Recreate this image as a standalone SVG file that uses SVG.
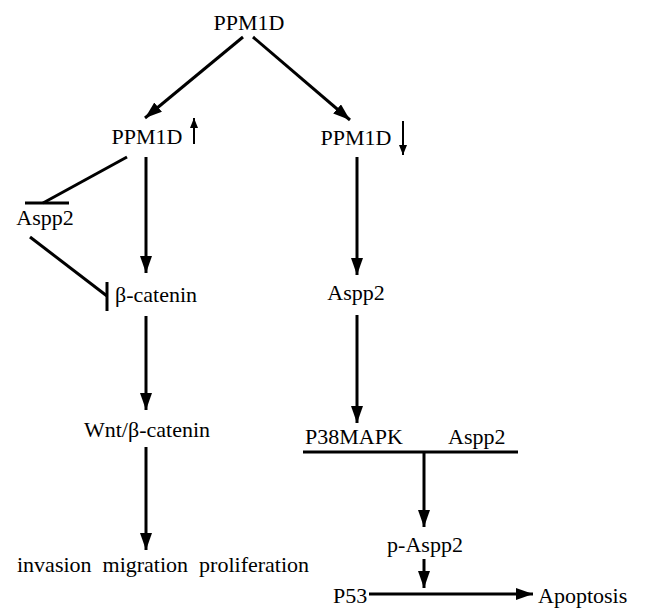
<svg xmlns="http://www.w3.org/2000/svg" width="646" height="608" viewBox="0 0 646 608">
<style>
text{font-family:'Liberation Serif','DejaVu Serif',serif;font-size:22px;fill:#000}
.c line,.c path{stroke:#000;stroke-width:3;fill:none}
.a{marker-end:url(#ah)}
.s{marker-end:url(#sm)}
</style>
<defs>
<marker id="ah" markerUnits="userSpaceOnUse" markerWidth="17" markerHeight="12" refX="17" refY="6" orient="auto">
<path d="M0,0 L17,6 L0,12 z" fill="#000"/>
</marker>
<marker id="sm" markerUnits="userSpaceOnUse" markerWidth="10" markerHeight="8" refX="10" refY="4" orient="auto">
<path d="M0,0 L10,4 L0,8 z" fill="#000"/>
</marker>
</defs>
<rect width="646" height="608" fill="#fff"/>
<g id="ppm1d"><text x="249" y="30" text-anchor="middle">PPM1D</text></g>
<g id="ppm1d-up"><text x="147" y="144" text-anchor="middle">PPM1D</text></g>
<g id="ppm1d-down"><text x="356" y="145" text-anchor="middle">PPM1D</text></g>
<g id="aspp2-left"><text x="45" y="225" text-anchor="middle">Aspp2</text></g>
<g id="bcatenin"><text x="115" y="302">β-catenin</text></g>
<g id="wnt"><text x="147" y="437" text-anchor="middle">Wnt/β-catenin</text></g>
<g id="outcome"><text x="17" y="572" xml:space="preserve">invasion  migration  proliferation</text></g>
<g id="aspp2-right"><text x="356" y="300" text-anchor="middle">Aspp2</text></g>
<g id="complex"><text x="305" y="444">P38MAPK</text><text x="448" y="444">Aspp2</text></g>
<g id="paspp2"><text x="425" y="552" text-anchor="middle">p-Aspp2</text></g>
<g id="p53"><text x="333" y="603">P53</text></g>
<g id="apoptosis"><text x="538" y="603">Apoptosis</text></g>
<g id="connectors" class="c">
<line class="a" x1="243" y1="37" x2="145" y2="118"/>
<line class="a" x1="253" y1="37" x2="350" y2="120"/>
<line class="s" x1="194" y1="144" x2="194" y2="118" style="stroke-width:2"/>
<line class="s" x1="403" y1="121" x2="403" y2="155" style="stroke-width:2"/>
<line class="a" x1="146" y1="157" x2="146" y2="273"/>
<line x1="127" y1="157" x2="43" y2="203"/>
<line x1="25" y1="203" x2="69" y2="203"/>
<line x1="30" y1="237" x2="107" y2="296"/>
<line x1="107" y1="282" x2="107" y2="311"/>
<line class="a" x1="146" y1="316" x2="146" y2="410"/>
<line class="a" x1="146" y1="447" x2="146" y2="550"/>
<line class="a" x1="357" y1="157" x2="357" y2="275"/>
<line class="a" x1="357" y1="315" x2="357" y2="423"/>
<line x1="303" y1="452" x2="518" y2="452"/>
<line class="a" x1="424" y1="452" x2="424" y2="527"/>
<line class="a" x1="424" y1="559" x2="424" y2="588"/>
<line class="a" x1="369" y1="594" x2="533" y2="594"/>
</g>
</svg>
